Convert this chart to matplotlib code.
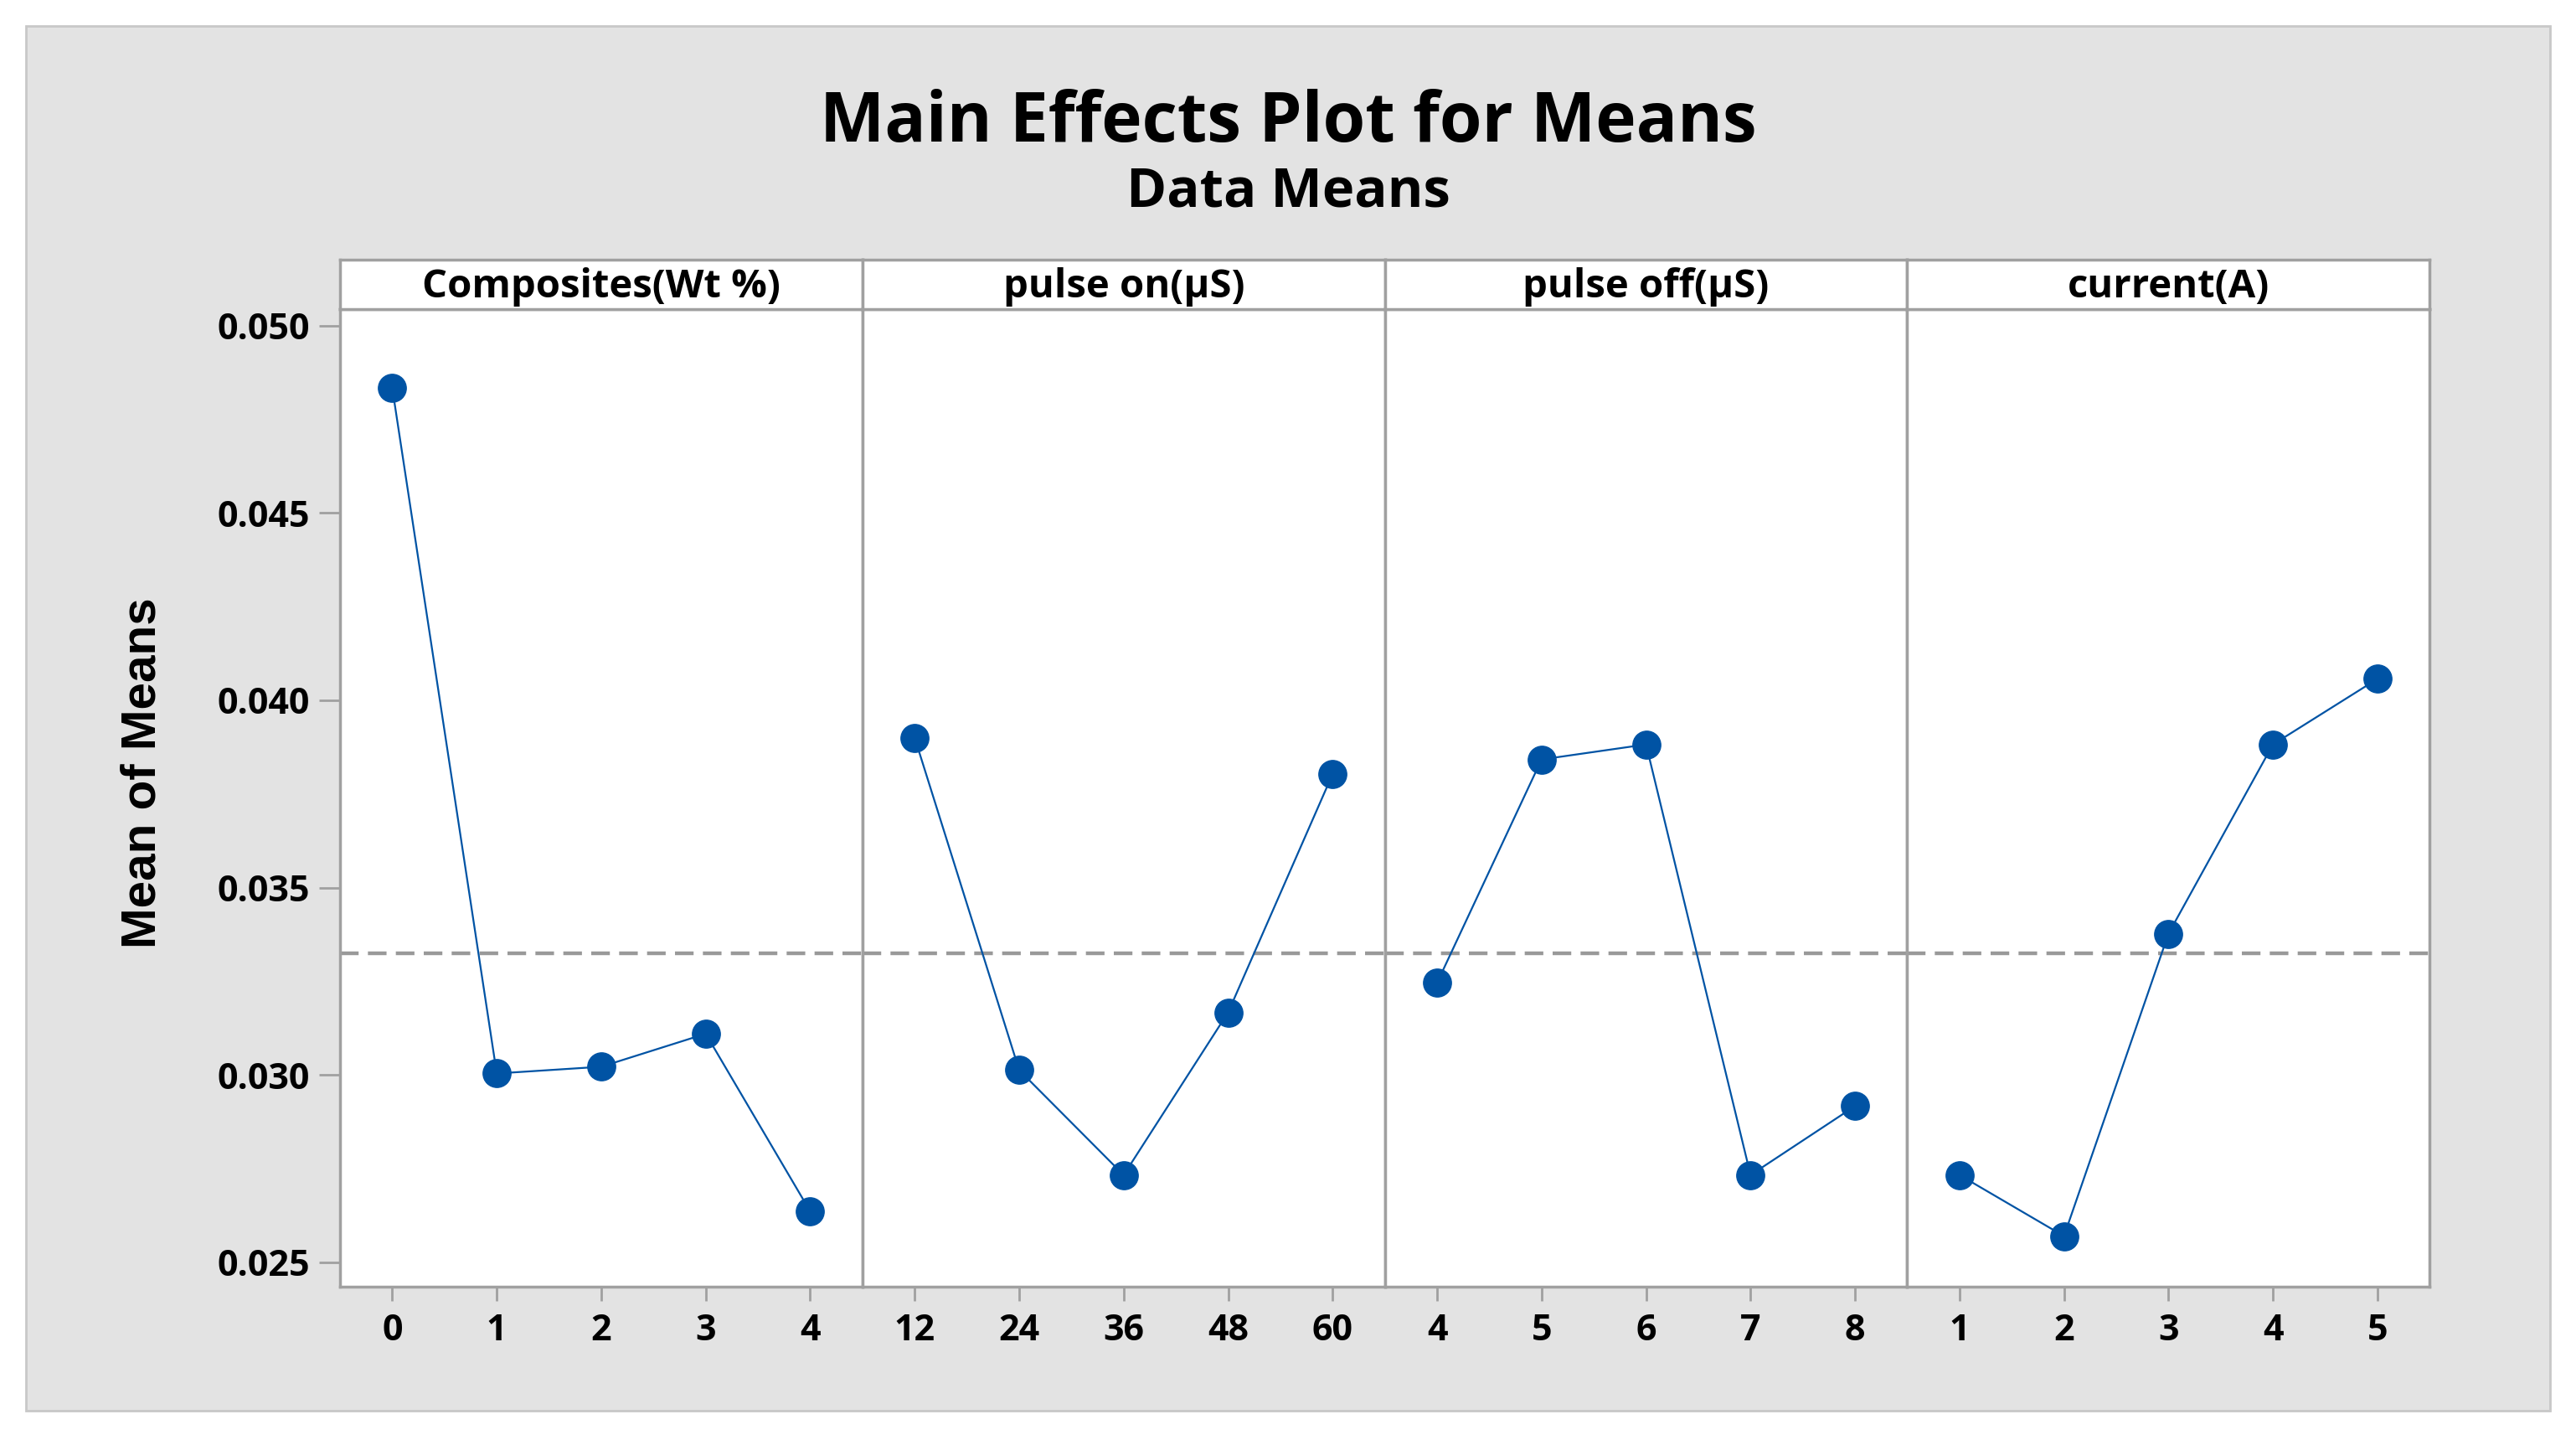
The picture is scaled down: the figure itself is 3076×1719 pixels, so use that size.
import matplotlib
matplotlib.use('Agg')
import matplotlib.pyplot as plt
from matplotlib.patches import Rectangle

plt.rcParams['font.family'] = ['Open Sans', 'DejaVu Sans']

factors = ['Composites(Wt %)', 'pulse on(\u00b5S)', 'pulse off(\u00b5S)', 'current(A)']
levels = [
    ['0', '1', '2', '3', '4'],
    ['12', '24', '36', '48', '60'],
    ['4', '5', '6', '7', '8'],
    ['1', '2', '3', '4', '5'],
]
means = [
    [0.04833, 0.03004, 0.03022, 0.03110, 0.02636],
    [0.03900, 0.03013, 0.02733, 0.03167, 0.03803],
    [0.03246, 0.03842, 0.03882, 0.02733, 0.02917],
    [0.02733, 0.02570, 0.03377, 0.03882, 0.04057],
]
grand_mean = 0.03324
yticks = [0.025, 0.030, 0.035, 0.040, 0.045, 0.050]

line_col = '#0053a4'
grid_col = '#a0a0a0'


def make_plot():
    fig = plt.figure(figsize=(30.76, 17.19), dpi=100)
    fig.patch.set_facecolor('white')
    # grey backdrop panel, drawn behind everything
    bg = fig.add_axes([0, 0, 1, 1], zorder=-10)
    bg.set_axis_off()
    bg.add_patch(Rectangle((0.0102, 0.0205), 0.9796, 0.9615, transform=bg.transAxes,
                           facecolor='#e3e3e3', edgecolor='#c8c8c8', linewidth=2))

    left, right = 0.132, 0.9432
    bottom, top = 0.1062, 0.7854
    strip_h = 0.0342
    w = (right - left) / 4

    for i in range(4):
        ax = fig.add_axes([left + i * w, bottom, w, top - bottom])
        ax.set_facecolor('white')
        xs = list(range(len(levels[i])))
        ax.axhline(grand_mean, color='#999999', lw=3.2, linestyle=(0, (5, 2.5)), zorder=1)
        ax.plot(xs, means[i], color=line_col, lw=1.6, marker='o', markersize=24,
                markerfacecolor=line_col, markeredgecolor=line_col, zorder=3)
        ax.set_xlim(-0.5, 4.5)
        ax.set_ylim(0.02434, 0.05044)
        ax.set_xticks(xs)
        ax.set_xticklabels(levels[i], fontsize=31, fontweight='bold')
        ax.tick_params(axis='x', length=12, width=2, color=grid_col, pad=10)
        if i == 0:
            ax.set_yticks(yticks)
            ax.set_yticklabels(['%.3f' % v for v in yticks], fontsize=31, fontweight='bold')
            ax.tick_params(axis='y', length=18, width=2, color=grid_col, pad=8)
        else:
            ax.set_yticks([])
        for s in ax.spines.values():
            s.set_color(grid_col)
            s.set_linewidth(2.5)

        # strip header
        sax = fig.add_axes([left + i * w, top, w, strip_h])
        sax.set_xticks([])
        sax.set_yticks([])
        sax.set_facecolor('white')
        for s in sax.spines.values():
            s.set_color(grid_col)
            s.set_linewidth(2.5)
        sax.text(0.5, 0.45, factors[i], ha='center', va='center', fontsize=34,
                 fontweight='bold', transform=sax.transAxes)

    fig.text(0.5, 0.914, 'Main Effects Plot for Means', ha='center', va='center',
             fontsize=59, fontweight='bold')
    fig.text(0.5, 0.866, 'Data Means', ha='center', va='center', fontsize=47,
             fontweight='bold')
    fig.text(0.0555, 0.463, 'Mean of Means', ha='center', va='center', rotation=90,
             fontsize=42, fontweight='bold',
             family=['Liberation Sans Narrow', 'Liberation Sans', 'DejaVu Sans'])

    fig.savefig('out.png', dpi=100)


def main():
    make_plot()

main()
